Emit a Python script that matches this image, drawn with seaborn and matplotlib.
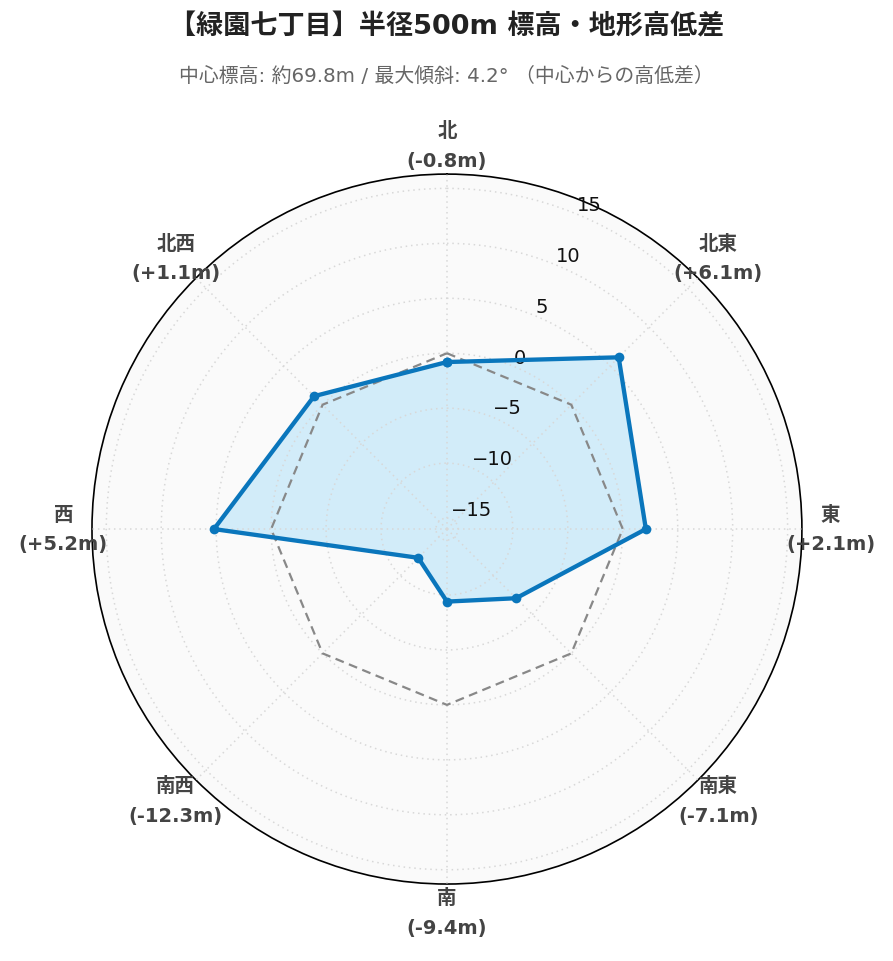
import numpy as np
import pandas as pd
import seaborn as sns
import matplotlib.pyplot as plt

directions = ['北', '北東', '東', '南東', '南', '南西', '西', '北西']
diffs = [-0.8, 6.1, 2.1, -7.1, -9.4, -12.3, 5.2, 1.1]
radial_ticks = [-15, -10, -5, 0, 5, 10, 15]

title = '【緑園七丁目】半径500m 標高・地形高低差'
subtitle = '中心標高: 約69.8m / 最大傾斜: 4.2° （中心からの高低差）'

sns.set_theme(style='white')
plt.rcParams['font.family'] = ['DejaVu Sans', 'Noto Sans CJK JP']
plt.rcParams['axes.unicode_minus'] = True

angles = np.deg2rad(np.arange(len(directions)) * 45.0)
# close the ring with theta = 2*pi so seaborn does not merge the duplicate x
df = pd.DataFrame({'theta': np.append(angles, 2 * np.pi),
                   'diff': diffs + [diffs[0]],
                   'base': [0.0] * (len(diffs) + 1)})

fig = plt.figure(figsize=(8.93, 9.62), dpi=100)
ax = fig.add_axes([0.103, 0.080, 0.795, 0.738], projection='polar')
ax.set_theta_zero_location('N')
ax.set_theta_direction(-1)
ax.set_facecolor('#fafafa')
ax.set_axisbelow(False)  # grid + radial labels sit on top of the fill
rmin, rmax = -16.0, 16.3
ax.set_rlim(rmin, rmax)

# reference (zero) line
sns.lineplot(data=df, x='theta', y='base', sort=False, estimator=None, ax=ax,
             color='#888888', linewidth=1.6, linestyle=(0, (4, 2.5)), zorder=3)
ax.fill(df['theta'], df['diff'], color='#d2ecf9', alpha=1.0, zorder=2)
sns.lineplot(data=df, x='theta', y='diff', sort=False, estimator=None, ax=ax,
             color='#0a76bc', linewidth=3.1, marker='o', markersize=7,
             markeredgewidth=0, zorder=4)

ax.set_xlabel('')
ax.set_ylabel('')
ax.set_xticks(angles)
ax.set_xticklabels([])
ax.set_yticks(radial_ticks)
ax.set_yticklabels([f'{t:d}'.replace('-', '\u2212') for t in radial_ticks],
                   fontsize=14, color='#111111')
ax.set_rlabel_position(22.5)
ax.tick_params(axis='y', pad=0)
ax.grid(True, color='#d8d8d8', linestyle=(0, (1, 2.5)), linewidth=1.1)
ax.spines['polar'].set_color('black')
ax.spines['polar'].set_linewidth(1.2)

for a, name, d in zip(angles, directions, diffs):
    ax.text(a, 18.9, f'{name}\n({d:+.1f}m)', ha='center', va='center',
            fontsize=14, fontweight='bold', color='#444444', linespacing=1.7,
            clip_on=False)

fig.text(0.5, 0.971, title, ha='center', va='center', fontsize=19.5,
         fontweight='bold', color='#222222')
fig.text(0.5, 0.921, subtitle, ha='center', va='center', fontsize=14.3,
         color='#666666')

fig.savefig('out.png', dpi=100)
